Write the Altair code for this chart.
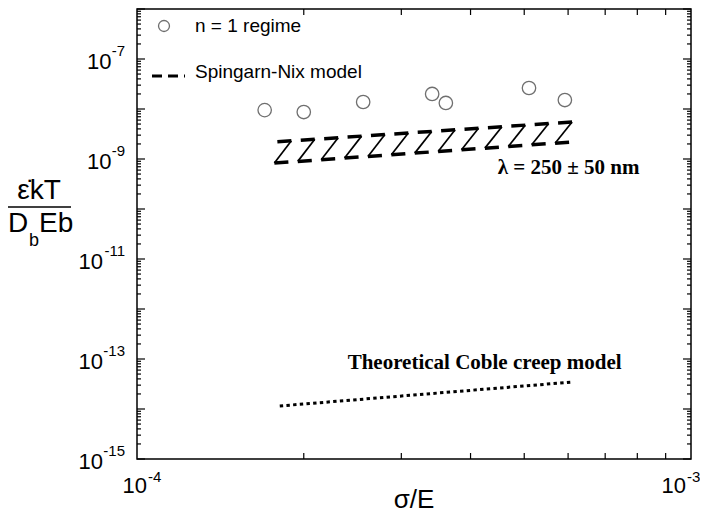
import math
import altair as alt
import pandas as pd

# ---------------- data ----------------
stress = [1.70e-4, 2.00e-4, 2.56e-4, 3.41e-4, 3.61e-4, 5.10e-4, 5.92e-4]
rate = [9.5e-9, 8.7e-9, 1.38e-8, 2.0e-8, 1.32e-8, 2.63e-8, 1.51e-8]

sn_x = [1.77e-4, 6.10e-4]          # Spingarn-Nix band (lambda = 200..300 nm)
sn_upper = [2.19e-9, 5.5e-9]
sn_lower = [8.3e-10, 2.19e-9]
n_hatch = 13

coble_x = [1.81e-4, 6.12e-4]       # theoretical Coble creep
coble_y = [1.15e-14, 3.47e-14]

y_major = [10.0 ** e for e in range(-15, -5)]
y_minor = [k * 10.0 ** e for e in range(-15, -6) for k in range(2, 10)]
x_major = [1e-4, 1e-3]
x_minor = [k * 1e-4 for k in range(2, 10)]

y_label_vals = [1e-15, 1e-13, 1e-11, 1e-9, 1e-7]
y_label_exps = ["-15", "-13", "-11", "-9", "-7"]
x_label_vals = [1e-4, 1e-3]
x_label_exps = ["-4", "-3"]

legend_labels = ["n = 1 regime", "Spingarn-Nix model"]
annot_text = ["λ = 250 ± 50 nm", "Theoretical Coble creep model"]
annot_x = [4.48e-4, 2.40e-4]
annot_y = [6.5e-10, 8.3e-14]

# ---------------- layout ----------------
W, H = 554, 450
SANS = "Liberation Sans"
SERIF = "Liberation Serif"
xs = alt.Scale(type="log", domain=[1e-4, 1e-3])
ys = alt.Scale(type="log", domain=[1e-15, 1e-6])


def X(f):
    return alt.X(f, type="quantitative", scale=xs, axis=None)


def Y(f):
    return alt.Y(f, type="quantitative", scale=ys, axis=None)


# ---------------- hatched band segments ----------------
lx0, lx1 = math.log10(sn_x[0]), math.log10(sn_x[1])
lu0, lu1 = math.log10(sn_upper[0]), math.log10(sn_upper[1])
ll0, ll1 = math.log10(sn_lower[0]), math.log10(sn_lower[1])


def U(lx):
    return lu0 + (lu1 - lu0) * (lx - lx0) / (lx1 - lx0)


def L(lx):
    return ll0 + (ll1 - ll0) * (lx - lx0) / (lx1 - lx0)


wd = 14.0 / W
dd = 3.0 / W
bars, diags = [], []
for k in range(n_hatch):
    a = lx0 + dd + k * ((lx1 - wd) - (lx0 + dd)) / (n_hatch - 1)
    bars.append((a, U(a), a + wd, U(a + wd)))
    b = a - dd
    bars.append((b, L(b), b + wd, L(b + wd)))
    diags.append((a + wd, U(a + wd), b, L(b)))


def seg_df(segs):
    return pd.DataFrame({
        "x": [10 ** s[0] for s in segs], "y": [10 ** s[1] for s in segs],
        "x2": [10 ** s[2] for s in segs], "y2": [10 ** s[3] for s in segs],
    })


bar_layer = alt.Chart(seg_df(bars)).mark_rule(color="black", strokeWidth=3.5, strokeCap="butt").encode(
    x=X("x"), y=Y("y"), x2="x2:Q", y2="y2:Q")
diag_layer = alt.Chart(seg_df(diags)).mark_rule(color="black", strokeWidth=1.7).encode(
    x=X("x"), y=Y("y"), x2="x2:Q", y2="y2:Q")

# ---------------- data marks ----------------
pts = alt.Chart(pd.DataFrame({"s": stress, "r": rate})).mark_point(
    shape="circle", filled=False, size=180, stroke="#333333", strokeWidth=1.3).encode(x=X("s"), y=Y("r"))

coble = alt.Chart(pd.DataFrame({"s": coble_x, "r": coble_y})).mark_line(
    color="black", strokeWidth=3, strokeDash=[3.4, 3.3], strokeCap="butt").encode(x=X("s"), y=Y("r"))

annots = alt.Chart(pd.DataFrame({"x": annot_x, "y": annot_y, "t": annot_text})).mark_text(
    font=SERIF, fontWeight="bold", fontSize=21, align="left", baseline="middle", color="black").encode(
    x=X("x"), y=Y("y"), text="t:N")

# ---------------- ticks (inward, all four sides) ----------------
ymaj = pd.DataFrame({"v": y_major})
ymin = pd.DataFrame({"v": y_minor})
xmaj = pd.DataFrame({"v": x_major})
xmin = pd.DataFrame({"v": x_minor})
tick_style = dict(color="black", strokeWidth=1.2)
ticks = [
    alt.Chart(ymaj).mark_rule(**tick_style).encode(y=Y("v"), x=alt.value(0), x2=alt.value(8)),
    alt.Chart(ymaj).mark_rule(**tick_style).encode(y=Y("v"), x=alt.value(W), x2=alt.value(W - 8)),
    alt.Chart(ymin).mark_rule(**tick_style).encode(y=Y("v"), x=alt.value(0), x2=alt.value(4)),
    alt.Chart(ymin).mark_rule(**tick_style).encode(y=Y("v"), x=alt.value(W), x2=alt.value(W - 4)),
    alt.Chart(xmin).mark_rule(**tick_style).encode(x=X("v"), y=alt.value(H), y2=alt.value(H - 6)),
    alt.Chart(xmin).mark_rule(**tick_style).encode(x=X("v"), y=alt.value(0), y2=alt.value(6)),
]

# ---------------- tick labels ----------------
ylab = pd.DataFrame({"v": y_label_vals, "e": y_label_exps})
ylabels = [
    alt.Chart(ylab).mark_text(font=SANS, fontSize=15, align="right", baseline="middle", dy=-8).encode(
        y=Y("v"), x=alt.value(-12), text="e:N"),
    alt.Chart(ylab).transform_filter("length(datum.e) > 2").mark_text(
        font=SANS, fontSize=22, align="right", baseline="middle", dy=3, text="10").encode(
        y=Y("v"), x=alt.value(-12 - 22)),
    alt.Chart(ylab).transform_filter("length(datum.e) <= 2").mark_text(
        font=SANS, fontSize=22, align="right", baseline="middle", dy=3, text="10").encode(
        y=Y("v"), x=alt.value(-12 - 13.5)),
]
xlab = pd.DataFrame({"v": x_label_vals, "e": x_label_exps})
xlab_first = xlab.iloc[:1]
xlab_last = xlab.iloc[1:]
xlabels = [
    alt.Chart(xlab_first).mark_text(font=SANS, fontSize=22, align="right", baseline="middle", dx=10, text="10").encode(
        x=X("v"), y=alt.value(H + 27)),
    alt.Chart(xlab_first).mark_text(font=SANS, fontSize=15, align="left", baseline="middle", dx=11).encode(
        x=X("v"), y=alt.value(H + 18), text="e:N"),
    alt.Chart(xlab_last).mark_text(font=SANS, fontSize=22, align="right", baseline="middle", dx=-5, text="10").encode(
        x=X("v"), y=alt.value(H + 27)),
    alt.Chart(xlab_last).mark_text(font=SANS, fontSize=15, align="left", baseline="middle", dx=-4).encode(
        x=X("v"), y=alt.value(H + 18), text="e:N"),
]

# ---------------- axis titles ----------------
one = pd.DataFrame({"a": [0]})
xtitle = alt.Chart(one).mark_text(font=SANS, fontSize=26, align="center", baseline="middle", text="σ/E").encode(
    x=alt.value(W / 2), y=alt.value(H + 41))
ytitle = [
    alt.Chart(one).mark_text(font=SANS, fontSize=28, align="center", baseline="middle", text="\u03b5\u0307kT").encode(
        x=alt.value(-98), y=alt.value(182)),
    alt.Chart(one).mark_rule(color="black", strokeWidth=1.5).encode(
        x=alt.value(-129), x2=alt.value(-66), y=alt.value(198)),
    alt.Chart(one).mark_text(font=SANS, fontSize=28, align="left", baseline="middle", text="D").encode(
        x=alt.value(-129), y=alt.value(215)),
    alt.Chart(one).mark_text(font=SANS, fontSize=18, align="left", baseline="middle", text="b").encode(
        x=alt.value(-108), y=alt.value(232)),
    alt.Chart(one).mark_text(font=SANS, fontSize=28, align="left", baseline="middle", text="Eb").encode(
        x=alt.value(-98), y=alt.value(215)),
]

# ---------------- legend ----------------
leg = [
    alt.Chart(one).mark_point(shape="circle", filled=False, size=120, stroke="#333333", strokeWidth=1.3).encode(
        x=alt.value(27), y=alt.value(17)),
    alt.Chart(one).mark_text(font=SANS, fontSize=19, align="left", baseline="middle", text=legend_labels[0]).encode(
        x=alt.value(58), y=alt.value(17)),
    alt.Chart(one).mark_rule(color="black", strokeWidth=3, strokeDash=[10, 6], strokeCap="butt").encode(
        x=alt.value(15), x2=alt.value(48), y=alt.value(67)),
    alt.Chart(one).mark_text(font=SANS, fontSize=19, align="left", baseline="middle", text=legend_labels[1]).encode(
        x=alt.value(58), y=alt.value(63)),
]

chart = alt.layer(
    *ticks, bar_layer, diag_layer, pts, coble, annots, *ylabels, *xlabels, xtitle, *ytitle, *leg
).properties(
    width=W, height=H,
    autosize=alt.AutoSizeParams(type="none"),
    padding={"left": 129, "top": 1, "right": 9, "bottom": 56},
).configure_view(stroke="black", strokeWidth=1.5)

chart.save("out.html", embed_options={"renderer": "svg", "actions": False})
